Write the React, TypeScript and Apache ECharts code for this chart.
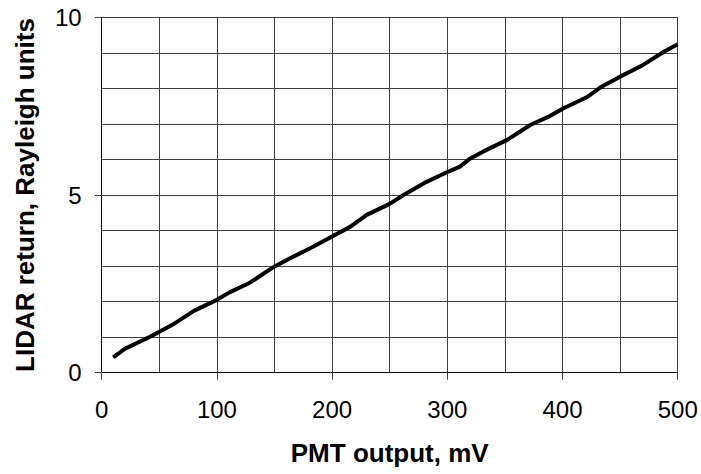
import React, { useEffect, useRef } from "react";
import * as echarts from "echarts";

const pmtOutput = [10, 20, 42, 61, 80, 100, 111, 129, 149, 166, 181, 196, 216, 230, 250, 262, 282, 301, 311, 320, 331, 352, 372, 389, 401, 421, 433, 450, 470, 488, 500];
const lidarReturn = [0.43, 0.67, 1.01, 1.34, 1.74, 2.05, 2.26, 2.54, 2.97, 3.26, 3.5, 3.76, 4.11, 4.44, 4.75, 5.0, 5.37, 5.66, 5.8, 6.03, 6.22, 6.55, 6.97, 7.22, 7.44, 7.75, 8.03, 8.33, 8.66, 9.03, 9.24];
const xTicks = [0, 100, 200, 300, 400, 500];
const yTicks = [0, 5, 10];

const FONT = "'Liberation Sans', Arial, Helvetica, sans-serif";

export default function App() {
  const ref = useRef<HTMLDivElement>(null);
  useEffect(() => {
    if (!ref.current) return;
    const chart = echarts.init(ref.current, null, { renderer: "svg" });
    const gridLine = { show: true, lineStyle: { color: "#404040", width: 1 } };
    chart.setOption({
      animation: false,
      backgroundColor: "#ffffff",
      grid: { left: 101.7, right: 23.3, top: 17.3, bottom: 101.3 },
      xAxis: {
        type: "value",
        min: xTicks[0],
        max: xTicks[xTicks.length - 1],
        interval: 100,
        name: "PMT output, mV",
        nameLocation: "middle",
        nameGap: 67,
        nameTextStyle: { fontFamily: FONT, fontSize: 26, fontWeight: "bold", color: "#000" },
        axisLine: { show: true, lineStyle: { color: "#000", width: 1 } },
        axisTick: { show: true, inside: false, length: 7, lineStyle: { color: "#404040" } },
        axisLabel: { margin: 25, fontFamily: FONT, fontSize: 24, color: "#000" },
        splitLine: gridLine,
        minorTick: { show: false, splitNumber: 2 },
        minorSplitLine: gridLine,
      },
      yAxis: {
        type: "value",
        min: yTicks[0],
        max: yTicks[yTicks.length - 1],
        interval: 5,
        name: "LIDAR return, Rayleigh units",
        nameLocation: "middle",
        nameRotate: 90,
        nameGap: 64,
        nameTextStyle: { fontFamily: FONT, fontSize: 26, fontWeight: "bold", color: "#000" },
        axisLine: { show: true, lineStyle: { color: "#000", width: 1 } },
        axisTick: { show: true, inside: false, length: 7, lineStyle: { color: "#404040" } },
        axisLabel: { margin: 20, fontFamily: FONT, fontSize: 24, color: "#000" },
        splitLine: gridLine,
        minorTick: { show: false, splitNumber: 5 },
        minorSplitLine: gridLine,
      },
      series: [
        {
          type: "line",
          data: pmtOutput.map((x, i) => [x, lidarReturn[i]]),
          showSymbol: false,
          symbol: "none",
          lineStyle: { color: "#000", width: 4 },
          smooth: false,
        },
      ],
    });
    return () => chart.dispose();
  }, []);
  return <div ref={ref} style={{ position: "fixed", left: 0, top: 0, width: 701, height: 474 }} />;
}
